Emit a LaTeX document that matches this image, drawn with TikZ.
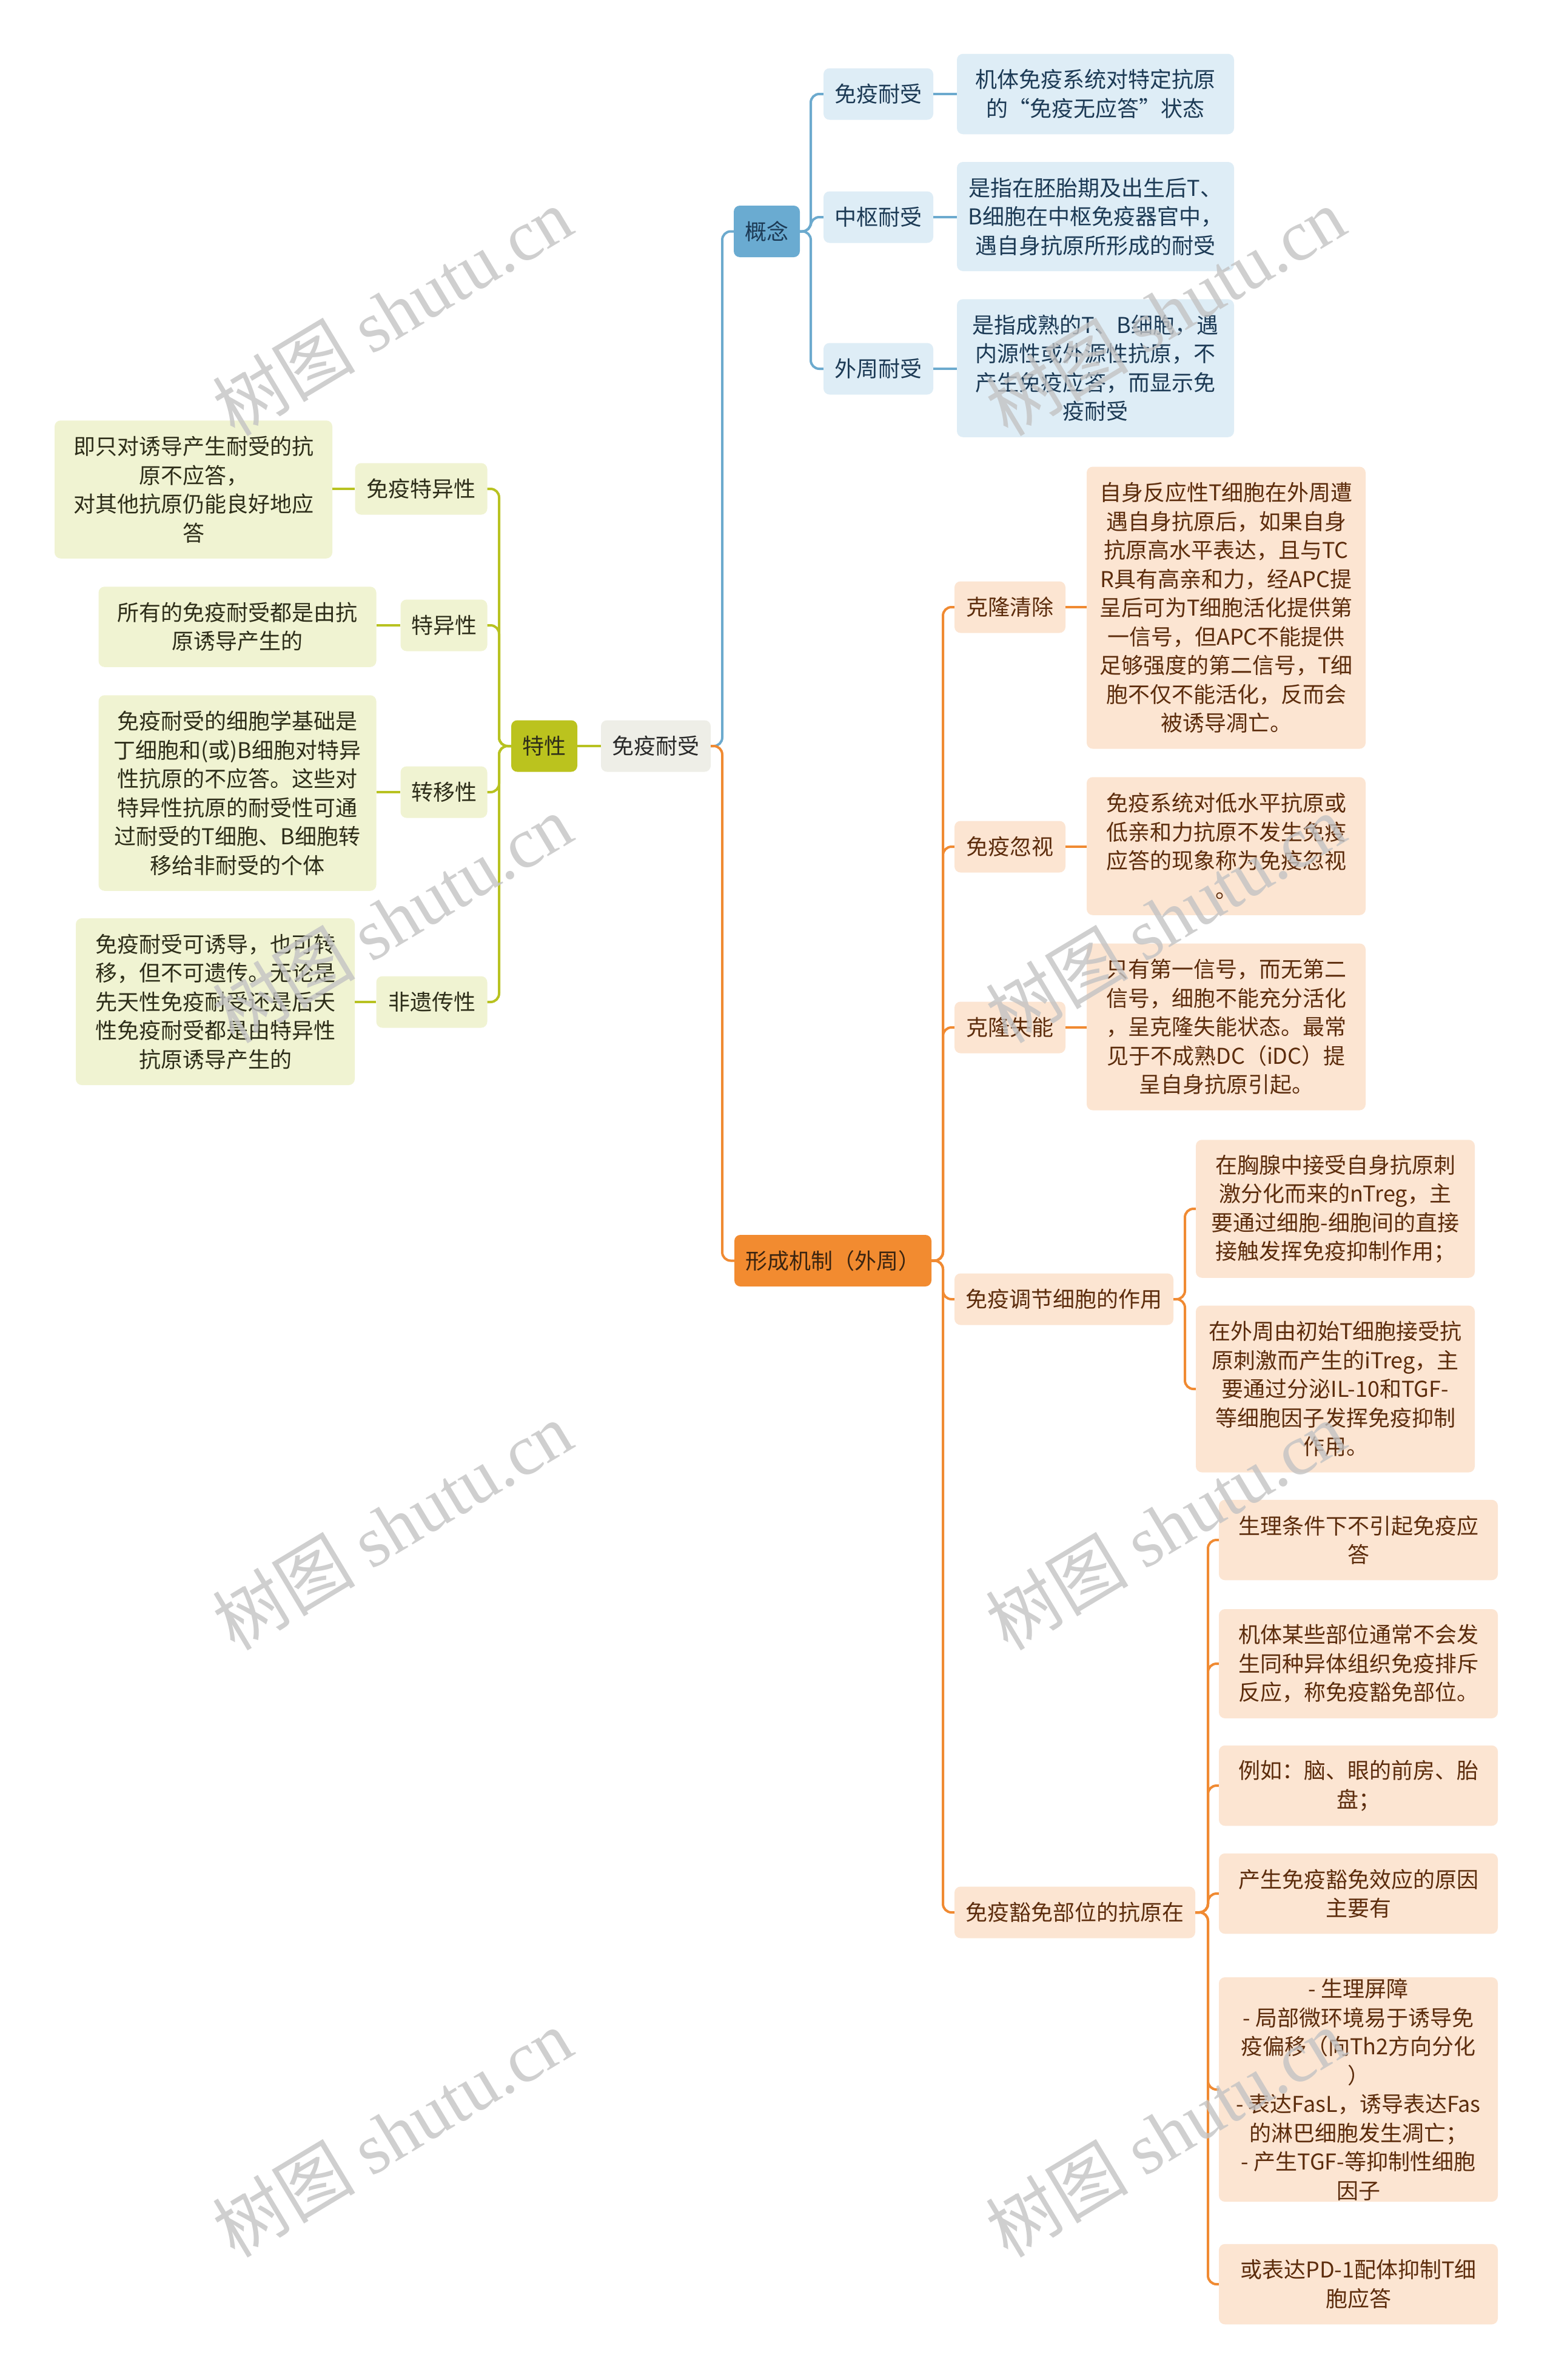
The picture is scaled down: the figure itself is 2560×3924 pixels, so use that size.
\documentclass[tikz,border=0pt]{standalone}
\usepackage{fontspec}
\setmainfont{Noto Sans CJK SC}
\newfontfamily\wmcjk{Noto Sans CJK SC}
\newfontfamily\wmlat{Liberation Serif}
\definecolor{bluedark}{RGB}{106,171,209}
\definecolor{bluelight}{RGB}{222,237,246}
\definecolor{blueline}{RGB}{108,170,206}
\definecolor{bluetext}{RGB}{28,58,85}
\definecolor{rootfill}{RGB}{238,238,231}
\definecolor{roottext}{RGB}{40,40,40}
\definecolor{greendark}{RGB}{187,195,30}
\definecolor{greenlight}{RGB}{240,243,210}
\definecolor{greenline}{RGB}{184,194,33}
\definecolor{greentext}{RGB}{45,45,25}
\definecolor{orangedark}{RGB}{242,139,48}
\definecolor{orangelight}{RGB}{252,229,210}
\definecolor{orangeline}{RGB}{240,138,50}
\definecolor{orangetext}{RGB}{92,44,12}
\definecolor{mechtext}{RGB}{59,36,16}
\definecolor{wmgray}{RGB}{195,195,195}
\tikzset{
  box/.style={rectangle, rounded corners=10pt, inner xsep=0pt, inner ysep=0pt,
    align=center, font=\fontsize{36}{47.5}\selectfont, anchor=center},
  bluemain/.style={box, fill=bluedark, text=bluetext},
  bluesub/.style={box, fill=bluelight, text=bluetext},
  rootbox/.style={box, fill=rootfill, text=roottext},
  greenmain/.style={box, fill=greendark, text=greentext},
  greensub/.style={box, fill=greenlight, text=greentext},
  orangemain/.style={box, fill=orangedark, text=mechtext},
  orangesub/.style={box, fill=orangelight, text=orangetext},
  bl/.style={draw=blueline, line width=4pt, rounded corners=14pt},
  gl/.style={draw=greenline, line width=4pt, rounded corners=14pt},
  ol/.style={draw=orangeline, line width=4pt, rounded corners=14pt},
  wmark/.style={text=wmgray, opacity=0.8, font=\fontsize{118}{130}\selectfont, rotate=31, inner sep=0pt}
}
\begin{document}
\begin{tikzpicture}[x=1pt,y=-1pt]
\useasboundingbox (0,0) rectangle (2560,3924);
\fill[white] (0,0) rectangle (2560,3924);

% root
\node[rootbox, minimum width=181pt, minimum height=85pt] (root) at (1081.5,1230) {免疫耐受};

% blue branch
\node[bluemain, minimum width=109pt, minimum height=85pt] (concept) at (1264.5,381.5) {概念};
\node[bluesub, minimum width=181pt, minimum height=85pt] (bc1) at (1448.5,155) {免疫耐受};
\node[bluesub, minimum width=181pt, minimum height=85pt] (bc2) at (1448.5,358) {中枢耐受};
\node[bluesub, minimum width=181pt, minimum height=85pt] (bc3) at (1448.5,608) {外周耐受};
\node[bluesub, minimum width=457pt, minimum height=132.5pt] (bd1) at (1806.5,155) {机体免疫系统对特定抗原\\的“免疫无应答”状态};
\node[bluesub, minimum width=457pt, minimum height=180pt] (bd2) at (1806.5,357) {是指在胚胎期及出生后T、\\B细胞在中枢免疫器官中，\\遇自身抗原所形成的耐受};
\node[bluesub, minimum width=457pt, minimum height=227.5pt] (bd3) at (1806.5,607) {是指成熟的T、B细胞，遇\\内源性或外源性抗原，不\\产生免疫应答，而显示免\\疫耐受};

% green branch
\node[greenmain, minimum width=109pt, minimum height=85pt] (trait) at (897.5,1230) {特性};
\node[greensub, minimum width=218pt, minimum height=85pt] (gc1) at (694.5,806) {免疫特异性};
\node[greensub, minimum width=143pt, minimum height=85pt] (gc2) at (732,1031) {特异性};
\node[greensub, minimum width=143pt, minimum height=85pt] (gc3) at (732,1306) {转移性};
\node[greensub, minimum width=183pt, minimum height=85pt] (gc4) at (712,1652) {非遗传性};
\node[greensub, minimum width=458pt, minimum height=227.5pt] (gd1) at (319,807) {即只对诱导产生耐受的抗\\原不应答，\\对其他抗原仍能良好地应\\答};
\node[greensub, minimum width=458pt, minimum height=132.5pt] (gd2) at (391.5,1033.5) {所有的免疫耐受都是由抗\\原诱导产生的};
\node[greensub, minimum width=458pt, minimum height=322.5pt] (gd3) at (391.5,1307.5) {免疫耐受的细胞学基础是\\丁细胞和(或)B细胞对特异\\性抗原的不应答。这些对\\特异性抗原的耐受性可通\\过耐受的T细胞、B细胞转\\移给非耐受的个体};
\node[greensub, minimum width=460pt, minimum height=275pt] (gd4) at (355,1651.5) {免疫耐受可诱导，也可转\\移，但不可遗传。无论是\\先天性免疫耐受还是后天\\性免疫耐受都是由特异性\\抗原诱导产生的};

% orange branch
\node[orangemain, minimum width=325pt, minimum height=85pt] (mech) at (1373.5,2078.5) {形成机制（外周）};
\node[orangesub, minimum width=183pt, minimum height=85pt] (oc1) at (1665.5,1001) {克隆清除};
\node[orangesub, minimum width=183pt, minimum height=85pt] (oc2) at (1665.5,1396) {免疫忽视};
\node[orangesub, minimum width=183pt, minimum height=85pt] (oc3) at (1665.5,1694) {克隆失能};
\node[orangesub, minimum width=361pt, minimum height=85pt] (oc4) at (1754.5,2142) {免疫调节细胞的作用};
\node[orangesub, minimum width=397pt, minimum height=85pt] (oc5) at (1772.5,3153) {免疫豁免部位的抗原在};
\node[orangesub, minimum width=460pt, minimum height=465pt] (od1) at (2022,1002) {自身反应性T细胞在外周遭\\遇自身抗原后，如果自身\\抗原高水平表达，且与TC\\R具有高亲和力，经APC提\\呈后可为T细胞活化提供第\\一信号，但APC不能提供\\足够强度的第二信号，T细\\胞不仅不能活化，反而会\\被诱导凋亡。};
\node[orangesub, minimum width=460pt, minimum height=227.5pt] (od2) at (2022,1395) {免疫系统对低水平抗原或\\低亲和力抗原不发生免疫\\应答的现象称为免疫忽视\\。};
\node[orangesub, minimum width=460pt, minimum height=275pt] (od3) at (2022,1693) {只有第一信号，而无第二\\信号，细胞不能充分活化\\，呈克隆失能状态。最常\\见于不成熟DC（iDC）提\\呈自身抗原引起。};
\node[orangesub, minimum width=460pt, minimum height=227.5pt] (od4) at (2202,1993) {在胸腺中接受自身抗原刺\\激分化而来的nTreg，主\\要通过细胞-细胞间的直接\\接触发挥免疫抑制作用；};
\node[orangesub, minimum width=460pt, minimum height=275pt] (od5) at (2202,2290) {在外周由初始T细胞接受抗\\原刺激而产生的iTreg，主\\要通过分泌IL-10和TGF-\\等细胞因子发挥免疫抑制\\作用。};
\node[orangesub, minimum width=460pt, minimum height=132.5pt] (oe1) at (2240,2539) {生理条件下不引起免疫应\\答};
\node[orangesub, minimum width=460pt, minimum height=180pt] (oe2) at (2240,2743) {机体某些部位通常不会发\\生同种异体组织免疫排斥\\反应，称免疫豁免部位。};
\node[orangesub, minimum width=460pt, minimum height=132.5pt] (oe3) at (2240,2944) {例如：脑、眼的前房、胎\\盘；};
\node[orangesub, minimum width=460pt, minimum height=132.5pt] (oe4) at (2240,3122) {产生免疫豁免效应的原因\\主要有};
\node[orangesub, minimum width=460pt, minimum height=370pt] (oe5) at (2240,3445) {- 生理屏障\\- 局部微环境易于诱导免\\疫偏移（向Th2方向分化\\）\\- 表达FasL，诱导表达Fas\\的淋巴细胞发生凋亡；\\- 产生TGF-等抑制性细胞\\因子};
\node[orangesub, minimum width=460pt, minimum height=132.5pt] (oe6) at (2240,3766) {或表达PD-1配体抑制T细\\胞应答};

% junction coordinates
\coordinate (rj) at (1191,1230);
\coordinate (cj) at (1337,381.5);
\coordinate (tj) at (823,1230);
\coordinate (mj) at (1555,2078.5);
\coordinate (rj4) at (1954,2142);
\coordinate (rj5) at (1992,3153);

% blue connectors
\draw[bl] (root.east) -- (rj) |- (concept.west);
\foreach \c in {bc1,bc2,bc3} { \draw[bl] (concept.east) -- (cj) |- (\c.west); }
\draw[bl] (bc1.east) -- (bc1.east -| bd1.west);
\draw[bl] (bc2.east) -- (bc2.east -| bd2.west);
\draw[bl] (bc3.east) -- (bc3.east -| bd3.west);

% green connectors
\draw[gl] (root.west) -- (trait.east);
\foreach \c in {gc1,gc2,gc3,gc4} { \draw[gl] (trait.west) -- (tj) |- (\c.east); }
\draw[gl] (gc1.west) -- (gc1.west -| gd1.east);
\draw[gl] (gc2.west) -- (gc2.west -| gd2.east);
\draw[gl] (gc3.west) -- (gc3.west -| gd3.east);
\draw[gl] (gc4.west) -- (gc4.west -| gd4.east);

% orange connectors
\draw[ol] (root.east) -- (rj) |- (mech.west);
\foreach \c in {oc1,oc2,oc3,oc4,oc5} { \draw[ol] (mech.east) -- (mj) |- (\c.west); }
\draw[ol] (oc1.east) -- (oc1.east -| od1.west);
\draw[ol] (oc2.east) -- (oc2.east -| od2.west);
\draw[ol] (oc3.east) -- (oc3.east -| od3.west);
\foreach \c in {od4,od5} { \draw[ol] (oc4.east) -- (rj4) |- (\c.west); }
\foreach \c in {oe1,oe2,oe3,oe4,oe5,oe6} { \draw[ol] (oc5.east) -- (rj5) |- (\c.west); }

% watermarks
\node[wmark] (wm1) at (647,513) {{\wmcjk 树图} {\wmlat shutu.cn}};
\node[wmark] (wm2) at (1922,513) {{\wmcjk 树图} {\wmlat shutu.cn}};
\node[wmark] (wm3) at (647,1514) {{\wmcjk 树图} {\wmlat shutu.cn}};
\node[wmark] (wm4) at (1922,1514) {{\wmcjk 树图} {\wmlat shutu.cn}};
\node[wmark] (wm5) at (647,2515) {{\wmcjk 树图} {\wmlat shutu.cn}};
\node[wmark] (wm6) at (1922,2515) {{\wmcjk 树图} {\wmlat shutu.cn}};
\node[wmark] (wm7) at (647,3516) {{\wmcjk 树图} {\wmlat shutu.cn}};
\node[wmark] (wm8) at (1922,3516) {{\wmcjk 树图} {\wmlat shutu.cn}};
\end{tikzpicture}
\end{document}
